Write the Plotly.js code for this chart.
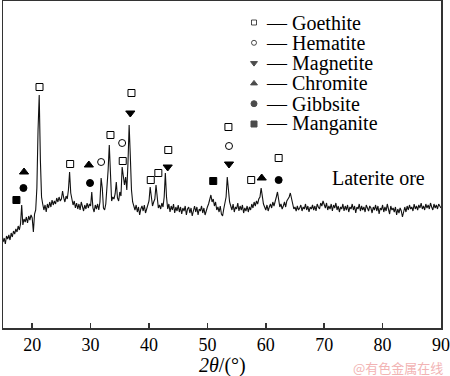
<!DOCTYPE html>
<html><head><meta charset="utf-8">
<script src="https://cdn.plot.ly/plotly-3.0.1.min.js"></script>
<style>html,body{margin:0;padding:0;background:#fff}#chart{width:450px;height:376px}</style>
</head><body><div id="chart"></div>
<script>
// 2θ grid: start and step (degrees)
const startAngle = 15;
const stepAngle = 0.2;
// XRD intensity (arbitrary units), one value per 0.2° from 15° to 90°
const intensity = [
 86, 90, 84, 92, 89,   93, 88, 95, 91, 97,   94, 99, 96,102, 98,  104,123,103,109,106,  111,105,112,108,113,
110, 96,114,118,140,  198,233,168,131,124,  118,123,116,124,120,  126,121,128,123,127,  124,130,126,131,127,
129,137,130,126,132,  129,138,156,135,127,  123,127,120,125,119,  124,118,126,121,117,  123,119,125,120,124,
122,136,120,116,123,  119,124,118,126,150,  140,120,118,124,138,  158,183,147,127,131,  129,134,146,130,127,
136,132,161,149,143,  151,138,165,203,172,  138,126,121,118,123,  116,121,113,119,122,  117,123,115,120,124,
127,141,132,122,126,  129,143,130,120,123,  119,125,121,131,155,  131,119,124,116,122,  118,124,115,121,117,
123,116,121,114,120,  117,122,113,119,121,  115,120,112,118,122,  116,121,113,119,117,  122,115,120,113,118,
121,124,128,133,126,  129,122,126,118,121,  116,122,114,112,119,  124,131,151,138,126,  122,118,124,116,121,
119,125,117,122,118,  123,115,120,117,122,  116,121,118,124,120,  126,122,127,124,129,  131,140,129,124,121,
118,123,117,121,124,  120,126,122,128,131,  136,127,121,124,119,  122,126,121,127,129,  131,135,129,123,119,
121,117,122,118,120,  123,117,121,119,124,  118,122,116,121,119,  123,118,122,117,124,  121,119,125,122,127,
123,120,125,118,122,  119,124,117,123,120,  125,118,122,116,121,  119,124,117,122,118,  123,116,121,119,124,
118,122,115,121,119,  124,117,122,118,121,  116,123,119,117,122,  120,115,121,118,123,  117,122,114,120,118,
123,116,121,117,124,  119,114,122,118,120,  116,121,113,119,115,  120,117,111,118,121,  116,122,118,123,119,
121,117,124,119,122,  118,123,120,125,119,  122,118,124,120,123,  119,125,121,118,124,  120,123,119,124,121,
120
];
// Phase identification marks (2θ, label height)
const goethiteX  = [21.25, 26.5, 33.4, 35.5, 37.0, 40.3, 41.6, 43.3, 53.6, 57.5, 62.2];
const goethiteY  = [241, 164, 193, 167, 235, 148, 155, 178, 201, 148, 170];
const hematiteX  = [31.8, 35.4, 53.7];
const hematiteY  = [166, 185, 182];
const magnetiteX = [36.8, 43.2, 53.7];
const magnetiteY = [215, 161, 164];
const chromiteX  = [18.6, 29.7, 59.3];
const chromiteY  = [156, 163, 150];
const gibbsiteX  = [18.5, 29.9, 62.2];
const gibbsiteY  = [140, 145, 148];
const manganiteX = [17.3, 51.0];
const manganiteY = [128, 147];

const phaseNames = ['Goethite', 'Hematite', 'Magnetite', 'Chromite', 'Gibbsite', 'Manganite'];
const sampleLabel = 'Laterite ore';
const xTitle = '<i>2θ</i>/(°)';
const xTicks = [20, 30, 40, 50, 60, 70, 80, 90];
const watermark = '@有色金属在线';

// styling
const serif = 'Liberation Serif, Times New Roman, serif';
const symbols = ['square-open', 'circle-open', 'triangle-down', 'triangle-up', 'circle', 'square'];
const markSizes = [7, 7, 8, 8, 7, 7];
const keySizes = [5, 5, 6, 6, 6, 6];
const L = 3, R = 441, T = 1, B = 328;
const px2x = p => (p - L) / (R - L);
const py2y = p => (B - p) / (B - T);

const phaseX = [goethiteX, hematiteX, magnetiteX, chromiteX, gibbsiteX, manganiteX];
const phaseY = [goethiteY, hematiteY, magnetiteY, chromiteY, gibbsiteY, manganiteY];

const traces = [{
  type: 'scatter', mode: 'lines', y: intensity, x0: startAngle, dx: stepAngle,
  line: {color: '#111', width: 1.1}, hoverinfo: 'skip', showlegend: false
}];
phaseNames.forEach((n, i) => {
  traces.push({
    type: 'scatter', mode: 'markers', name: n, x: phaseX[i], y: phaseY[i],
    marker: {symbol: symbols[i], size: markSizes[i], color: '#000', line: {color: '#000', width: 1}},
    showlegend: false
  });
});
// legend keys in a pixel-space overlay
const keyPx = 254, rowTop = 22.5, rowGap = 20.3;
traces.push({
  type: 'scatter', mode: 'markers', xaxis: 'x2', yaxis: 'y2',
  x: phaseNames.map(() => keyPx), y: phaseNames.map((_, i) => rowTop + rowGap * i),
  marker: {symbol: symbols, size: keySizes, color: '#000', line: {color: '#000', width: 1}},
  showlegend: false, hoverinfo: 'skip'
});

const annotations = phaseNames.map((n, i) => ({
  xref: 'paper', yref: 'paper', x: px2x(265), y: py2y(rowTop + rowGap * i),
  xanchor: 'left', yanchor: 'middle', showarrow: false, text: '— ' + n, borderpad: 0,
  font: {family: serif, size: 20, color: '#000'}
}));
annotations.push({
  xref: 'paper', yref: 'paper', x: px2x(330), y: py2y(178), xanchor: 'left', yanchor: 'middle',
  showarrow: false, text: sampleLabel, font: {family: serif, size: 20, color: '#000'}
});
annotations.push({
  xref: 'paper', yref: 'paper', x: px2x(222), y: py2y(365), xanchor: 'center', yanchor: 'middle',
  showarrow: false, text: xTitle, borderpad: 0, font: {family: serif, size: 20, color: '#000'}
});
annotations.push({
  xref: 'paper', yref: 'paper', x: px2x(444), y: py2y(367), xanchor: 'right', yanchor: 'middle',
  showarrow: false, text: watermark, borderpad: 0, font: {family: 'Noto Sans CJK SC', size: 13, color: '#f2b4b4'}
});

const layout = {
  width: 450, height: 376,
  margin: {l: L, r: 450 - R, t: T, b: 376 - B, pad: 0},
  paper_bgcolor: '#fff', plot_bgcolor: '#fff', showlegend: false,
  xaxis: {
    range: [15, 90], tickmode: 'array', tickvals: xTicks, ticktext: xTicks.map(String),
    ticks: 'inside', ticklen: 5, tickwidth: 1.5, tickcolor: '#333',
    ticklabeloverflow: 'allow',
    showline: true, linecolor: '#333', linewidth: 1.5, mirror: true,
    showgrid: false, zeroline: false,
    tickfont: {family: serif, size: 18, color: '#000'}
  },
  yaxis: {
    range: [0, 327], showticklabels: false, ticks: '',
    showline: true, linecolor: '#333', linewidth: 1.5, mirror: true,
    showgrid: false, zeroline: false
  },
  xaxis2: {overlaying: 'x', range: [L, R], visible: false, fixedrange: true},
  yaxis2: {overlaying: 'y', range: [B, T], visible: false, fixedrange: true},
  annotations: annotations
};

Plotly.newPlot('chart', traces, layout, {staticPlot: true, displayModeBar: false});
</script>
</body></html>
